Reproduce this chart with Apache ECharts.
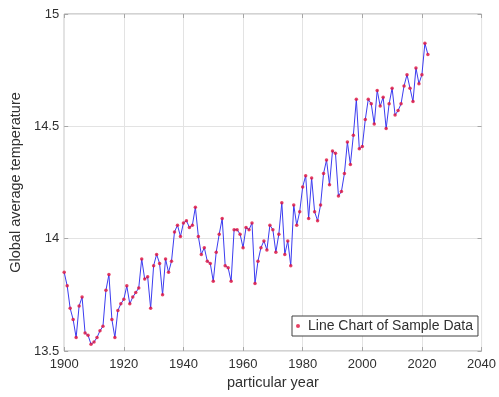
<!DOCTYPE html>
<html>
<head>
<meta charset="utf-8">
<script src="https://cdn.jsdelivr.net/npm/echarts@6/dist/echarts.min.js"></script>
<style>
  html, body { margin: 0; padding: 0; background: #ffffff; }
  #chart { width: 499px; height: 397px; }
</style>
</head>
<body>
<div id="chart"></div>
<script>
// Annual global average temperature, one value per year starting at FIRST_YEAR
const FIRST_YEAR = 1900;
const temps = [
  13.85, 13.79, 13.69, 13.64, 13.56, 13.70, 13.74, 13.58, 13.57, 13.53,
  13.54, 13.56, 13.59, 13.61, 13.77, 13.84, 13.64, 13.56, 13.68, 13.71,
  13.73, 13.79, 13.71, 13.74, 13.76, 13.78, 13.91, 13.82, 13.83, 13.69,
  13.88, 13.93, 13.89, 13.75, 13.91, 13.85, 13.90, 14.03, 14.06, 14.01,
  14.07, 14.08, 14.05, 14.06, 14.14, 14.01, 13.93, 13.96, 13.90, 13.89,
  13.81, 13.94, 14.02, 14.09, 13.88, 13.87, 13.81, 14.04, 14.04, 14.02,
  13.96, 14.05, 14.04, 14.07, 13.80, 13.90, 13.96, 13.99, 13.95, 14.06,
  14.04, 13.94, 14.02, 14.16, 13.93, 13.99, 13.88, 14.15, 14.06, 14.12,
  14.23, 14.28, 14.09, 14.27, 14.12, 14.08, 14.15, 14.29, 14.35, 14.24,
  14.39, 14.38, 14.19, 14.21, 14.29, 14.43, 14.33, 14.46, 14.62, 14.40,
  14.41, 14.53, 14.62, 14.60, 14.51, 14.66, 14.59, 14.63, 14.49, 14.60,
  14.67, 14.55, 14.57, 14.60, 14.68, 14.73, 14.67, 14.61, 14.76, 14.69,
  14.73, 14.87, 14.82
];

const xTicks = { min: 1900, max: 2040, step: 20 };
const yTicks = { min: 13.5, max: 15, step: 0.5 };

const points = temps.map((t, i) => [FIRST_YEAR + i, t]);

const AXIS_GRAY = '#a6a6a6';
const TEXT = '#303030';
const FONT = 'Liberation Sans, Arial, sans-serif';

const tickInside = { show: true, inside: true, length: 4, lineStyle: { color: AXIS_GRAY } };

const chart = echarts.init(document.getElementById('chart'), null, { renderer: 'canvas' });
chart.setOption({
  backgroundColor: '#ffffff',
  animation: false,
  textStyle: { fontFamily: FONT },
  grid: {
    left: 62, right: 10, top: 14, bottom: 46,
    show: true, borderColor: AXIS_GRAY, borderWidth: 1, backgroundColor: '#ffffff'
  },
  legend: {
    data: [{ name: 'Line Chart of Sample Data', icon: 'circle' }],
    left: 292, top: 316,
    padding: [3, 5, 3, 4],
    itemWidth: 10, itemHeight: 4, itemGap: 5,
    borderColor: '#404040', borderWidth: 1, backgroundColor: '#ffffff',
    textStyle: { color: TEXT, fontSize: 14, fontFamily: FONT }
  },
  xAxis: [{
    type: 'value', min: xTicks.min, max: xTicks.max, interval: xTicks.step,
    name: 'particular year', nameLocation: 'middle', nameGap: 24,
    nameTextStyle: { color: TEXT, fontSize: 14.5, fontFamily: FONT },
    axisLine: { show: false },
    axisTick: tickInside,
    axisLabel: { color: TEXT, fontSize: 13, margin: 7, fontFamily: FONT, formatter: v => String(v) },
    splitLine: { show: true, lineStyle: { color: '#e3e3e3', width: 1 } }
  }, {
    type: 'value', position: 'top', min: xTicks.min, max: xTicks.max, interval: xTicks.step,
    axisLine: { show: false }, axisTick: tickInside,
    axisLabel: { show: false }, splitLine: { show: false }
  }],
  yAxis: [{
    type: 'value', min: yTicks.min, max: yTicks.max, interval: yTicks.step,
    name: 'Global average temperature', nameLocation: 'middle', nameGap: 37,
    nameTextStyle: { color: TEXT, fontSize: 14.5, fontFamily: FONT },
    axisLine: { show: false },
    axisTick: tickInside,
    axisLabel: { color: TEXT, fontSize: 13, margin: 5, fontFamily: FONT },
    splitLine: { show: true, lineStyle: { color: '#e3e3e3', width: 1 } }
  }, {
    type: 'value', position: 'right', min: yTicks.min, max: yTicks.max, interval: yTicks.step,
    axisLine: { show: false }, axisTick: tickInside,
    axisLabel: { show: false }, splitLine: { show: false }
  }],
  series: [{
    name: 'trend',
    type: 'line',
    data: points,
    showSymbol: false,
    symbol: 'none',
    lineStyle: { color: '#3c3cf0', width: 1 },
    z: 2
  }, {
    name: 'Line Chart of Sample Data',
    type: 'scatter',
    data: points,
    symbol: 'circle',
    symbolSize: 3.5,
    itemStyle: { color: '#e0103c' },
    z: 3
  }]
});
</script>
</body>
</html>
